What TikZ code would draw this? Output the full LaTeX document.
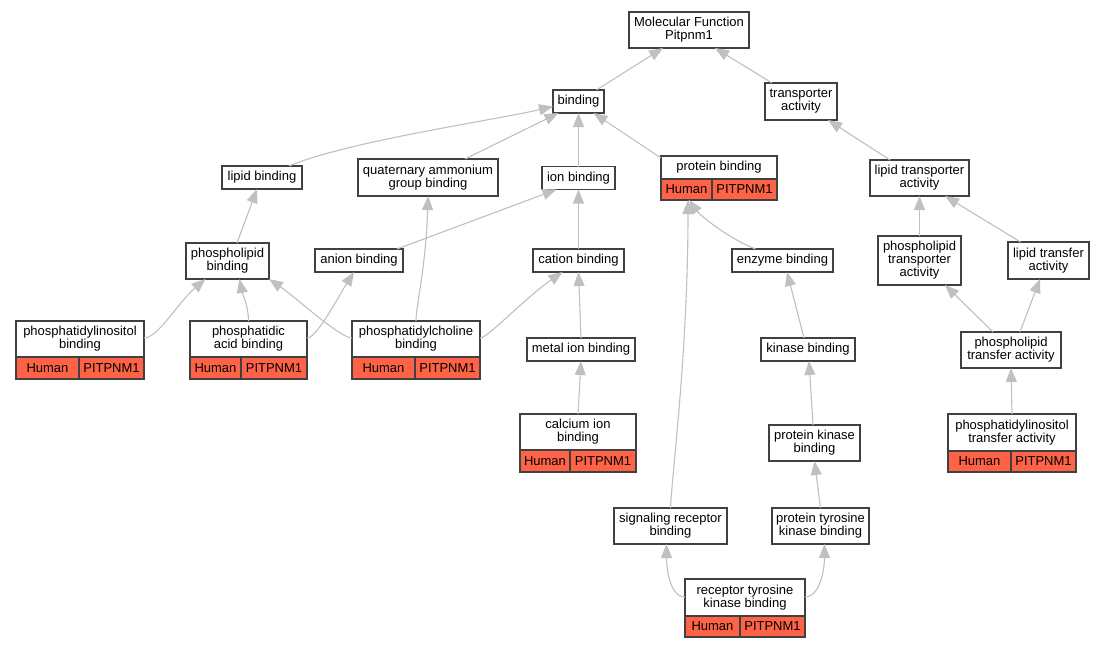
\documentclass[tikz,border=0pt]{standalone}
\usepackage{fontspec}
\setmainfont{Liberation Sans}
\usetikzlibrary{arrows.meta,calc}
\definecolor{hred}{HTML}{FF6347}
\definecolor{bord}{HTML}{404040}
\definecolor{egray}{HTML}{C0C0C0}
\tikzset{
 gobox/.style={draw=bord, line width=1.3pt, fill=white, inner sep=0pt, outer sep=0pt, align=center, font=\fontsize{13}{13}\selectfont},
 recbox/.style={draw=bord, line width=1.3pt, fill=white, inner sep=0pt, outer sep=0pt},
 bordline/.style={draw=bord, line width=1.3pt},
 lbl/.style={inner sep=0pt, align=center, font=\fontsize{13}{13}\selectfont},
 arr/.style={draw=egray, line width=1.1pt, -{Triangle[length=14pt,width=11pt]}},
}
% #1 name #2 cx #3 cy #4 w #5 h #6 top height #7 split offset #8 text
\newcommand\recnode[8]{%
 \node[recbox, minimum width=#4pt, minimum height=#5pt] (#1) at (#2,#3) {};
 \fill[hred] ($(#1.north west)+(0,#6)$) rectangle (#1.south east);
 \draw[bordline] ($(#1.north west)+(0,#6)$) -- ($(#1.north east)+(0,#6)$);
 \draw[bordline] ($(#1.north west)+(#7,#6)$) -- ($(#1.south west)+(#7,0)$);
 \draw[bordline] (#1.north west) rectangle (#1.south east);
 \node[lbl] (#1-t) at ($(#1.north)+(0,#6/2)$) {#8};
 \node[lbl] (#1-h) at ($(#1.north west)+(#7/2,#6/2+#5/2)$) {Human};
 \node[lbl] (#1-p) at ($(#1.north east)+(#7/2-#4/2,#6/2+#5/2)$) {PITPNM1};
}
\begin{document}
\begin{tikzpicture}[x=1pt,y=-1pt]
\fill[white] (0,0) rectangle (1104,648);
\useasboundingbox (0,0) rectangle (1104,648);

% plain nodes
\node[gobox, minimum width=120pt, minimum height=36pt] (mf) at (689,30) {Molecular Function\\Pitpnm1};
\node[gobox, minimum width=51pt, minimum height=23pt] (bind) at (578.5,101.5) {binding};
\node[gobox, minimum width=72pt, minimum height=37pt] (trans) at (801,101.5) {transporter\\activity};
\node[gobox, minimum width=80pt, minimum height=23pt] (lipid) at (262,177.5) {lipid binding};
\node[gobox, minimum width=140pt, minimum height=37pt] (quat) at (428,177.5) {quaternary ammonium\\group binding};
\node[gobox, minimum width=73pt, minimum height=23pt] (ion) at (578.5,178) {ion binding};
\node[gobox, minimum width=99pt, minimum height=36pt] (lt) at (919.5,178) {lipid transporter\\activity};
\node[gobox, minimum width=83pt, minimum height=36pt] (plb) at (227.5,261) {phospholipid\\binding};
\node[gobox, minimum width=88pt, minimum height=23pt] (anion) at (359,260.5) {anion binding};
\node[gobox, minimum width=91pt, minimum height=23pt] (cation) at (578.5,260.5) {cation binding};
\node[gobox, minimum width=101pt, minimum height=23pt] (enz) at (782.5,260.5) {enzyme binding};
\node[gobox, minimum width=83pt, minimum height=49pt] (pltr) at (919.5,260.5) {phospholipid\\transporter\\activity};
\node[gobox, minimum width=81pt, minimum height=37pt] (ltf) at (1048.5,260.5) {lipid transfer\\activity};
\node[gobox, minimum width=108pt, minimum height=23pt] (metal) at (581,349.5) {metal ion binding};
\node[gobox, minimum width=94pt, minimum height=23pt] (kin) at (808,349.5) {kinase binding};
\node[gobox, minimum width=100pt, minimum height=36pt] (pltf) at (1011,350) {phospholipid\\transfer activity};
\node[gobox, minimum width=91pt, minimum height=36pt] (pkb) at (814.5,443) {protein kinase\\binding};
\node[gobox, minimum width=113pt, minimum height=36pt] (srb) at (670.5,526) {signaling receptor\\binding};
\node[gobox, minimum width=97pt, minimum height=36pt] (ptk) at (820.5,526) {protein tyrosine\\kinase binding};

% record nodes
\recnode{pb}{719}{178}{116}{44}{23}{51}{protein binding}
\recnode{pib}{80}{350}{128}{58}{36}{63}{phosphatidylinositol\\binding}
\recnode{pab}{248.5}{350}{117}{58}{36}{51}{phosphatidic\\acid binding}
\recnode{pcb}{416}{350}{128}{58}{36}{63}{phosphatidylcholine\\binding}
\recnode{calc}{578}{443}{116}{58}{36}{50}{calcium ion\\binding}
\recnode{pit}{1012}{443}{128}{58}{37}{63}{phosphatidylinositol\\transfer activity}
\recnode{rtk}{745}{608}{120}{58}{37}{55}{receptor tyrosine\\kinase binding}

% edges
\draw[arr] ([xshift=18pt]bind.north) -- ([xshift=-26pt]mf.south);
\draw[arr] ([xshift=-29pt]trans.north) -- ([xshift=26pt]mf.south);
\draw[arr] ([xshift=27pt]lipid.north) .. controls +(60,-25) and +(-60,14) .. ([yshift=-5pt]bind.west);
\draw[arr] ([xshift=37pt]quat.north) -- ([xshift=-20pt]bind.south);
\draw[arr] (ion.north) -- (bind.south);
\draw[arr] ([yshift=-2pt]pb.north west) -- ([xshift=15pt]bind.south);
\draw[arr] ([xshift=-29.5pt]lt.north) -- ([xshift=27pt]trans.south);
\draw[arr] ([xshift=9.5pt]plb.north) -- ([xshift=-5pt]lipid.south);
\draw[arr] ([xshift=38pt]anion.north) -- ([xshift=-22pt]ion.south);
\draw[arr] (cation.north) -- (ion.south);
\draw[arr] ([xshift=-27pt]enz.north) .. controls +(-30,-12) and +(10,14) .. ([xshift=-30pt]pb.south);
\draw[arr] (srb.north) .. controls +(2,-40) and +(0,150) .. ([xshift=-31pt]pb.south);
\draw[arr] (pltr.north) -- (lt.south);
\draw[arr] ([xshift=-28pt]ltf.north) -- ([xshift=25.5pt]lt.south);
\draw[arr] ([yshift=12pt]pib.east) .. controls +(14,0) and +(-28,24) .. ([xshift=-22pt]plb.south);
\draw[arr] (pab.north) .. controls +(0,-15) and +(3,15) .. ([xshift=12pt]plb.south);
\draw[arr] ([yshift=12pt]pcb.west) .. controls +(-12,0) and +(25,17) .. (plb.south east);
\draw[arr] ([yshift=12pt]pab.east) .. controls +(10,0) and +(-14,22) .. ([xshift=-5pt]anion.south);
\draw[arr] (pcb.north) .. controls +(0,-15) and +(-2,70) .. (quat.south);
\draw[arr] ([yshift=12pt]pcb.east) .. controls +(8,0) and +(-40,28) .. ([xshift=-16pt]cation.south);
\draw[arr] (metal.north) -- (cation.south);
\draw[arr] (calc.north) -- (metal.south);
\draw[arr] ([xshift=-4pt]kin.north) -- ([xshift=4.5pt]enz.south);
\draw[arr] ([xshift=-1.5pt]pkb.north) -- ([xshift=1pt]kin.south);
\draw[arr] (ptk.north) -- (pkb.south);
\draw[arr] ([yshift=11pt]rtk.west) .. controls +(-15,0) and +(0,25) .. ([xshift=-4pt]srb.south);
\draw[arr] ([yshift=11pt]rtk.east) .. controls +(15,0) and +(0,25) .. ([xshift=4pt]ptk.south);
\draw[arr] ([xshift=-18pt]pltf.north) -- ([xshift=25.5pt]pltr.south);
\draw[arr] ([xshift=9pt]pltf.north) -- ([xshift=-8.5pt]ltf.south);
\draw[arr] (pit.north) -- (pltf.south);
\end{tikzpicture}
\end{document}
